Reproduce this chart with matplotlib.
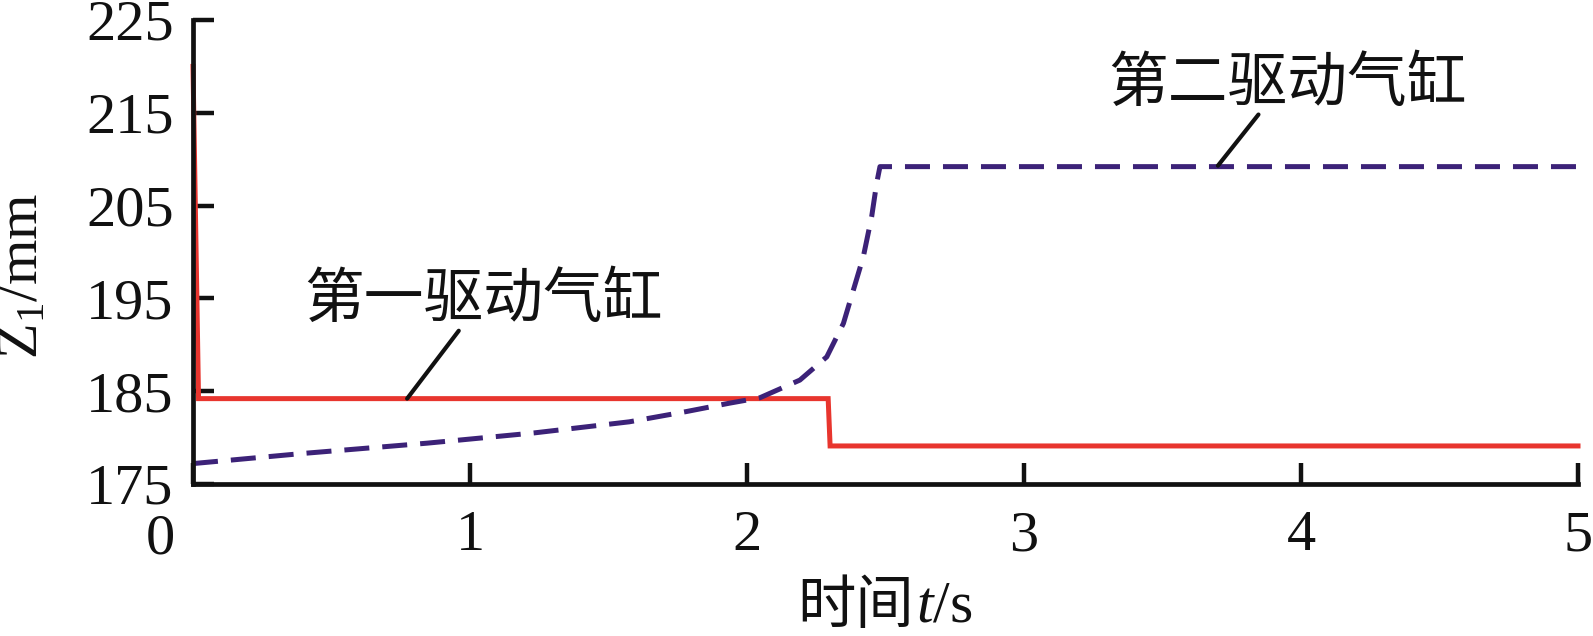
import matplotlib
matplotlib.use("Agg")
import matplotlib.pyplot as plt
from matplotlib.transforms import ScaledTranslation

# ---- data ----
t_first = [0.0, 0.02, 2.293, 2.30, 5.0]
z_first = [220.0, 184.2, 184.2, 179.1, 179.1]

t_second = [0.0, 0.40, 0.845, 1.23, 1.575, 1.78, 1.935, 2.047, 2.191, 2.288,
            2.348, 2.384, 2.42, 2.45, 2.468, 2.48, 5.0]
z_second = [177.2, 178.3, 179.4, 180.5, 181.7, 182.8, 183.7, 184.3, 186.2, 188.7,
            192.3, 195.9, 199.5, 203.8, 207.4, 209.2, 209.2]

x_ticks = [0, 1, 2, 3, 4, 5]
x_ticklabels = ["0", "1", "2", "3", "4", "5"]
y_ticks = [175, 185, 195, 205, 215, 225]
y_ticklabels = ["175", "185", "195", "205", "215", "225"]

label_first = "第一驱动气缸"
label_second = "第二驱动气缸"

plt.rcParams['mathtext.fontset'] = 'custom'
plt.rcParams['mathtext.rm'] = 'Liberation Serif'
plt.rcParams['mathtext.it'] = 'Liberation Serif:italic'
plt.rcParams['mathtext.default'] = 'regular'

W, H = 1593, 636
fig = plt.figure(figsize=(W / 100, H / 100), dpi=100)
ax = fig.add_axes([193 / W, 1 - 484 / H, 1385 / W, 464 / H])

red = '#E8352E'
purple = '#3C2278'

ax.plot(t_first, z_first, color=red, lw=3.6, clip_on=False, solid_joinstyle='miter')
ax.plot(t_second, z_second, color=purple, lw=3.6, dashes=(5.0, 2.6), clip_on=False)

ax.set_xlim(0, 5)
ax.set_ylim(175, 225)

for s in ['top', 'right']:
    ax.spines[s].set_visible(False)
for s in ['left', 'bottom']:
    ax.spines[s].set_linewidth(3.4)
    ax.spines[s].set_color('#111111')

ax.set_xticks(x_ticks)
ax.set_xticklabels(x_ticklabels)
ax.set_yticks(y_ticks)
ax.set_yticklabels(y_ticklabels)
ax.tick_params(axis='both', direction='in', length=15, width=3.2, color='#111111',
               labelsize=42, labelcolor='#111111')
ax.tick_params(axis='x', pad=19)
ax.tick_params(axis='y', pad=14)
for lab in ax.get_xticklabels() + ax.get_yticklabels():
    lab.set_fontfamily('Liberation Serif')

# shift the "0" x tick label left, as in the reference
lab0 = ax.xaxis.get_major_ticks()[0].label1
lab0.set_transform(lab0.get_transform() + ScaledTranslation(-0.33, -0.03, fig.dpi_scale_trans))

# axis labels
fig.text(23 / W, 1 - 276 / H, "Z$_1$/mm", rotation=90, ha='center', va='center',
         fontsize=42, family='Liberation Serif', color='#111111')
fig.text(914 / W, 1 - 607 / H, "时间", ha='right', va='center', fontsize=42,
         family='Noto Sans CJK SC', color='#111111')
fig.text(916 / W, 1 - 607 / H, r"$\mathit{t}$/s", ha='left', va='center', fontsize=43,
         family='Liberation Serif', color='#111111')

# annotations
ax.annotate(label_first, xy=(0.773, 184.2), xytext=(1.05, 194.8),
            ha='center', va='center', fontsize=43, family='Noto Sans CJK SC',
            color='#111111',
            arrowprops=dict(arrowstyle='-', color='#111111', lw=3.0,
                            shrinkA=0, shrinkB=0,
                            relpos=(0.43, 0.0), patchA=None))
ax.annotate(label_second, xy=(3.70, 209.3), xytext=(3.95, 218.1),
            ha='center', va='center', fontsize=43, family='Noto Sans CJK SC',
            color='#111111',
            arrowprops=dict(arrowstyle='-', color='#111111', lw=3.0,
                            shrinkA=0, shrinkB=0,
                            relpos=(0.42, 0.0), patchA=None))

fig.savefig("out.png", dpi=100)
